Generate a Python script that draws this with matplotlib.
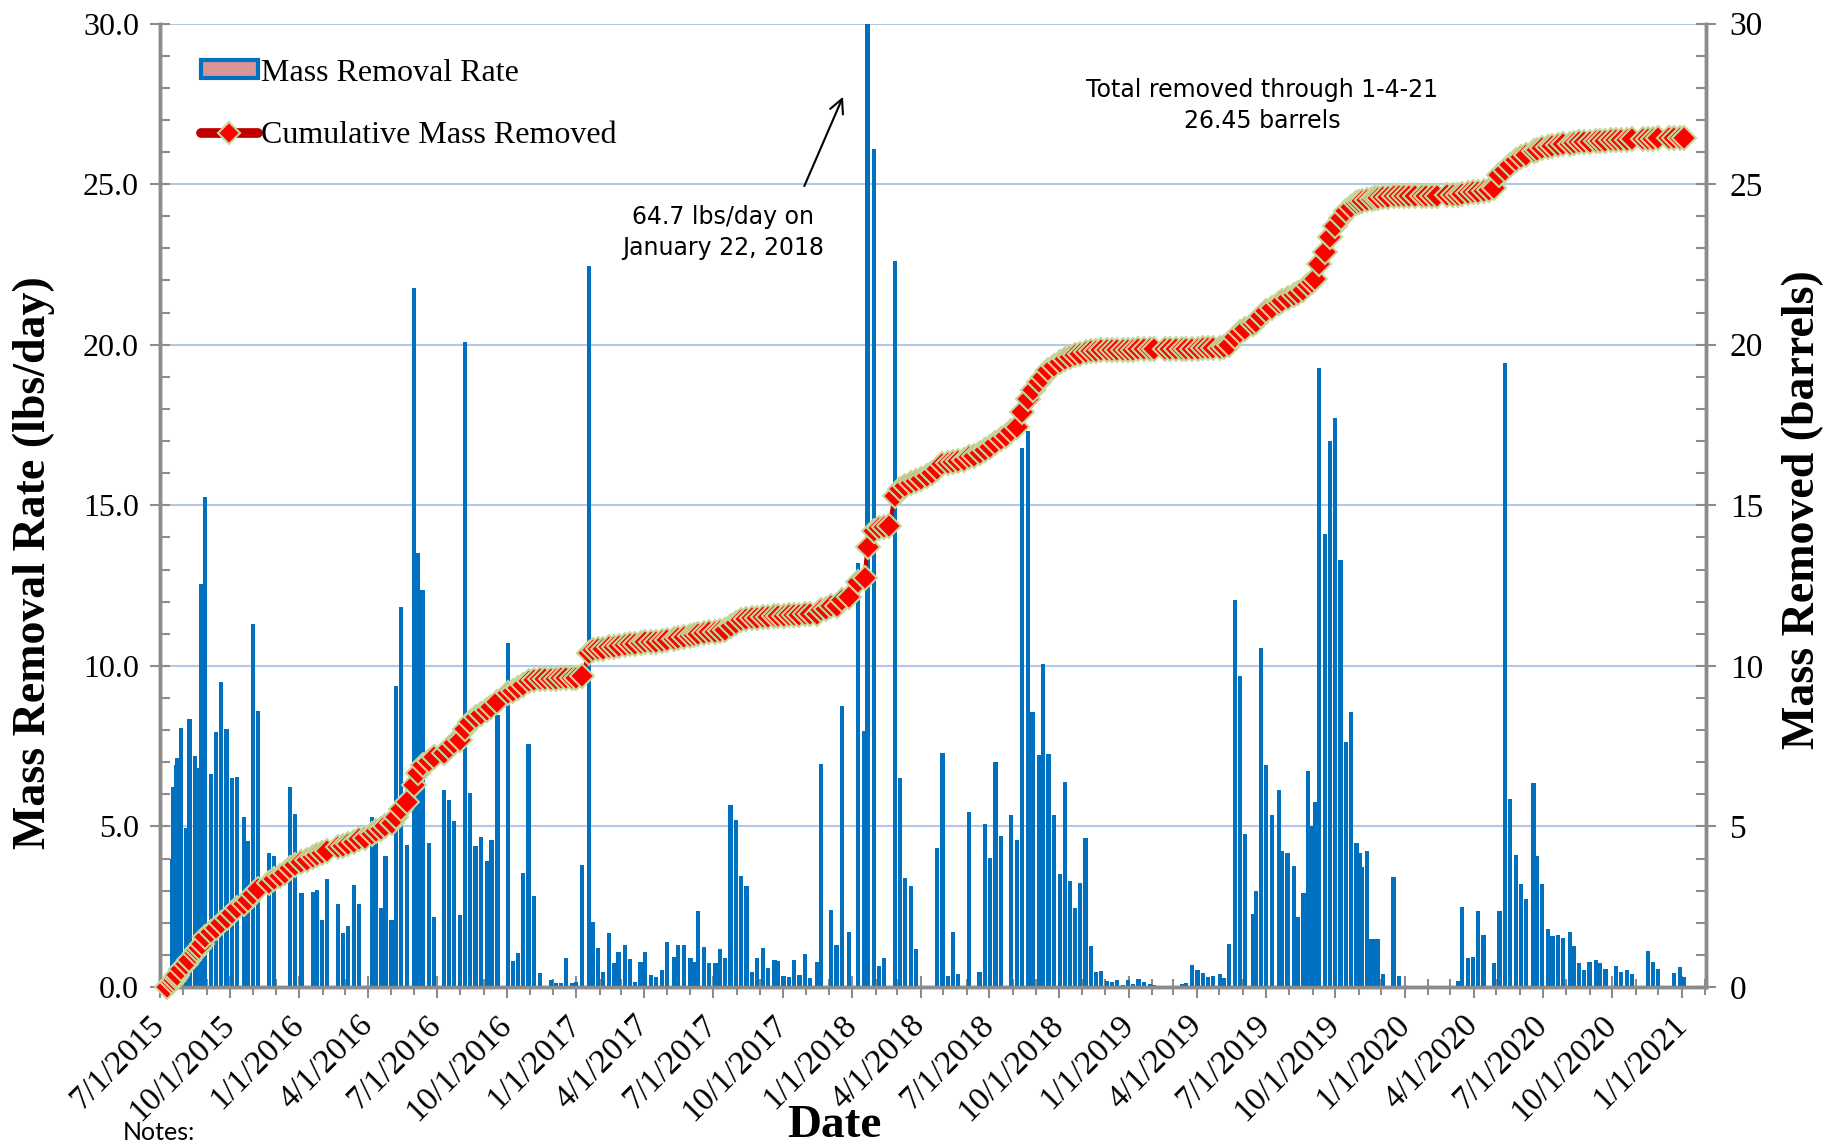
import matplotlib
matplotlib.use('Agg')
import matplotlib.pyplot as plt
from matplotlib.patches import Patch
from matplotlib.lines import Line2D
import pandas as pd

# sample dates, given as days after the start date
start = '2015-07-01'
days = [9, 16, 18, 21, 23, 28, 34, 39, 46, 49, 52, 55, 60, 68, 74, 81, 88, 95, 102, 111,
        116, 123, 130, 144, 151, 158, 165, 172, 179, 187, 194, 202, 207, 214, 221, 235, 242, 249, 256, 263,
        271, 280, 286, 292, 298, 306, 312, 319, 326, 336, 341, 347, 355, 362, 375, 382, 389, 396, 403, 410,
        417, 424, 432, 438, 446, 460, 466, 473, 480, 487, 494, 502, 509, 517, 523, 530, 536, 544, 550, 558,
        567, 572, 579, 585, 593, 600, 606, 614, 621, 628, 635, 641, 649, 655, 663, 670, 679, 684, 692, 701,
        706, 711, 719, 726, 734, 740, 747, 754, 761, 768, 775, 782, 789, 797, 803, 812, 817, 824, 831, 838,
        845, 852, 859, 868, 873, 880, 887, 894, 901, 910, 922, 931, 935, 943, 950, 957, 964, 971, 978, 985,
        992, 999, 1006, 1013, 1020, 1027, 1034, 1041, 1048, 1055, 1062, 1069, 1076, 1083, 1090, 1097, 1104, 1111, 1118, 1125,
        1132, 1139, 1147, 1153, 1161, 1167, 1174, 1181, 1189, 1196, 1202, 1209, 1216, 1223, 1230, 1237, 1244, 1251, 1258, 1265,
        1273, 1279, 1286, 1293, 1300, 1308, 1314, 1328, 1335, 1342, 1350, 1356, 1364, 1371, 1378, 1385, 1392, 1401, 1406, 1413,
        1420, 1427, 1434, 1444, 1448, 1455, 1462, 1469, 1479, 1483, 1490, 1498, 1504, 1511, 1517, 1522, 1526, 1532, 1539, 1546,
        1553, 1560, 1567, 1574, 1581, 1585, 1588, 1595, 1601, 1606, 1609, 1616, 1623, 1630, 1637, 1644, 1651, 1658, 1667, 1673,
        1681, 1688, 1701, 1708, 1715, 1721, 1728, 1735, 1742, 1749, 1756, 1763, 1770, 1777, 1784, 1792, 1798, 1805, 1815, 1819,
        1826, 1834, 1840, 1847, 1854, 1863, 1868, 1875, 1882, 1889, 1897, 1903, 1910, 1917, 1924, 1931, 1938, 1945, 1959, 1966,
        1973, 1980, 1994, 2001, 2008, 2014]

# mass removal rate (lbs/day)
rate = [0, 3.98, 6.23, 6.9, 7.13, 8.08, 4.95, 8.36, 7.18, 6.83, 6.6, 12.54, 15.27, 6.64, 7.93, 9.5, 8.03, 6.5, 6.53, 5.29,
        4.55, 11.29, 8.6, 4.16, 4.08, 0, 0, 6.22, 5.38, 2.94, 0, 2.97, 3.03, 2.1, 3.36, 2.58, 1.68, 1.9, 3.18, 2.58,
        0, 5.29, 4.58, 2.45, 4.08, 2.1, 9.37, 11.82, 4.43, 21.77, 13.5, 12.36, 4.47, 2.19, 6.14, 5.81, 5.17, 2.25, 20.09, 6.04,
        4.38, 4.68, 3.93, 4.58, 8.48, 10.72, 0.8, 1.05, 3.56, 7.57, 2.85, 0.45, 0, 0.21, 0.12, 0.12, 0.9, 0.12, 0.15, 3.8,
        22.45, 2.03, 1.23, 0.48, 1.68, 0.75, 1.08, 1.32, 0.87, 0.15, 0.78, 1.1, 0.38, 0.3, 0.54, 1.41, 0.93, 1.32, 1.32, 0.9,
        0.78, 2.36, 1.25, 0.75, 0.75, 1.2, 0.9, 5.66, 5.2, 3.45, 3.15, 0.48, 0.9, 1.23, 0.6, 0.84, 0.81, 0.35, 0.3, 0.84,
        0.36, 1.02, 0.29, 0.78, 6.95, 0, 2.4, 1.32, 8.75, 1.7, 13.2, 7.96, 64.7, 26.1, 0.66, 0.9, 0, 22.6, 6.52, 3.41,
        3.15, 1.17, 0, 0, 0, 4.32, 7.28, 0.33, 1.7, 0.42, 0, 5.44, 0, 0.48, 5.08, 4.02, 7.01, 4.7, 0, 5.36,
        4.58, 16.79, 17.3, 8.56, 7.24, 10.06, 7.27, 5.36, 3.53, 6.37, 3.3, 2.46, 3.23, 4.64, 1.28, 0.48, 0.5, 0.2, 0.15, 0.23,
        0.05, 0.23, 0.09, 0.26, 0.15, 0.08, 0.06, 0, 0, 0.03, 0.08, 0.12, 0.7, 0.54, 0.45, 0.3, 0.33, 0.4, 0.27, 1.35,
        12.04, 9.67, 4.77, 2.28, 3.0, 10.56, 6.9, 5.36, 6.13, 4.23, 4.17, 3.78, 2.19, 2.94, 6.73, 5.02, 5.75, 19.29, 14.11, 17.01,
        17.72, 13.29, 7.64, 8.56, 4.47, 4.17, 3.75, 4.23, 1.5, 1.5, 1.5, 0.42, 0, 3.42, 0.35, 0, 0.03, 0, 0.03, 0.03,
        0, 0.03, 0, 0, 0.18, 2.5, 0.9, 0.93, 2.36, 1.62, 0, 0.75, 2.37, 19.43, 5.86, 4.1, 3.2, 2.73, 6.35, 4.08,
        3.2, 1.8, 1.59, 1.61, 1.53, 1.71, 1.28, 0.75, 0.53, 0.78, 0.83, 0.75, 0.56, 0, 0.65, 0.48, 0.53, 0.42, 0, 1.13,
        0.78, 0.57, 0, 0.45, 0.63, 0.3]

# cumulative mass removed (barrels)
cum = [0.0, 0.15, 0.22, 0.3, 0.38, 0.55, 0.72, 0.85, 1.05, 1.15, 1.22, 1.35, 1.55, 1.72, 1.85, 2.0, 2.15, 2.3, 2.45, 2.6,
       2.7, 2.9, 3.05, 3.25, 3.35, 3.45, 3.55, 3.7, 3.8, 3.9, 3.95, 4.05, 4.1, 4.18, 4.25, 4.35, 4.4, 4.45, 4.52, 4.6,
       4.65, 4.75, 4.85, 4.92, 5.0, 5.1, 5.3, 5.55, 5.75, 6.3, 6.65, 6.9, 7.05, 7.15, 7.3, 7.45, 7.6, 7.7, 8.05, 8.25,
       8.4, 8.5, 8.62, 8.72, 8.88, 9.15, 9.22, 9.3, 9.4, 9.52, 9.57, 9.6, 9.6, 9.6, 9.6, 9.61, 9.62, 9.62, 9.62, 9.68,
       10.4, 10.48, 10.52, 10.54, 10.58, 10.6, 10.63, 10.66, 10.68, 10.68, 10.7, 10.73, 10.74, 10.75, 10.77, 10.8, 10.83, 10.86, 10.9, 10.93,
       10.95, 11.0, 11.03, 11.05, 11.07, 11.1, 11.12, 11.25, 11.35, 11.42, 11.47, 11.48, 11.5, 11.52, 11.53, 11.55, 11.56, 11.56, 11.57, 11.58,
       11.58, 11.6, 11.6, 11.62, 11.75, 11.78, 11.85, 11.88, 12.05, 12.15, 12.6, 12.75, 13.7, 14.2, 14.3, 14.33, 14.35, 15.3, 15.5, 15.6,
       15.68, 15.75, 15.82, 15.9, 16.0, 16.12, 16.28, 16.32, 16.35, 16.38, 16.4, 16.5, 16.55, 16.62, 16.72, 16.82, 16.95, 17.08, 17.15, 17.3,
       17.45, 17.9, 18.3, 18.6, 18.85, 19.0, 19.2, 19.35, 19.45, 19.55, 19.62, 19.68, 19.72, 19.77, 19.8, 19.82, 19.83, 19.84, 19.84, 19.85,
       19.85, 19.85, 19.85, 19.86, 19.86, 19.86, 19.86, 19.86, 19.86, 19.86, 19.86, 19.86, 19.87, 19.88, 19.89, 19.9, 19.9, 19.91, 19.92, 19.98,
       20.25, 20.4, 20.5, 20.65, 20.7, 20.9, 21.05, 21.15, 21.3, 21.35, 21.45, 21.55, 21.6, 21.7, 21.85, 21.95, 22.05, 22.5, 22.9, 23.35,
       23.7, 23.95, 24.15, 24.3, 24.4, 24.45, 24.48, 24.52, 24.55, 24.57, 24.58, 24.6, 24.6, 24.62, 24.63, 24.63, 24.63, 24.63, 24.64, 24.64,
       24.64, 24.64, 24.65, 24.66, 24.67, 24.7, 24.72, 24.74, 24.77, 24.8, 24.83, 24.88, 25.3, 25.45, 25.6, 25.75, 25.85, 25.92, 26.02, 26.07,
       26.12, 26.16, 26.19, 26.22, 26.24, 26.26, 26.28, 26.3, 26.31, 26.32, 26.33, 26.34, 26.35, 26.36, 26.37, 26.38, 26.39, 26.4, 26.4, 26.41,
       26.42, 26.43, 26.43, 26.44, 26.45, 26.45]

assert len(days) == len(rate) == len(cum)

dates = pd.Timestamp(start) + pd.to_timedelta(days, unit='D')
t0 = pd.Timestamp(start)

serif = 'Liberation Serif'
axis_grey = '#8C8C8C'

fig = plt.figure(figsize=(18.47, 11.44), dpi=100)
ax = fig.add_axes([0.0866, 0.1372, 0.8371, 0.8422])
ax2 = ax.twinx()

# bars - mass removal rate
ax.bar(dates, rate, width=5.5, color='#0070C0', zorder=3)
ax.set_ylim(0, 30)
ax.set_xlim(t0, pd.Timestamp('2021-02-02'))
ax.set_axisbelow(True)
ax.yaxis.grid(True, color='#B4C7E7', lw=1.5)

# cumulative line with diamond markers
ax2.plot(dates, cum, color='#C00000', lw=3, marker='D', ms=12.5, mfc='#FF0000',
         mec='#C4D79B', mew=1.5, clip_on=False, zorder=5)
ax2.set_ylim(0, 30)

# x axis - quarterly labels, monthly minor ticks
major = pd.date_range('2015-07-01', '2021-01-01', freq='3MS')
minor = pd.date_range('2015-07-01', '2021-02-01', freq='MS')
ax.set_xticks(major)
ax.set_xticks(minor, minor=True)
ax.set_xticklabels([f'{d.month}/{d.day}/{d.year}' for d in major], rotation=45,
                   ha='right', va='center', rotation_mode='anchor', fontsize=24, family=serif)
ax.tick_params(axis='x', which='major', direction='inout', length=16, width=1.5, color=axis_grey, pad=16)
ax.tick_params(axis='x', which='minor', direction='inout', length=12, width=1.5, color=axis_grey)

# y axes
ax.set_yticks(range(0, 31, 5))
ax.set_yticks(range(0, 31), minor=True)
ax.set_yticklabels([f'{v:.1f}' for v in range(0, 31, 5)], fontsize=23, family=serif)
ax.tick_params(axis='y', which='major', direction='inout', length=14, width=1.5, color=axis_grey, pad=8)
ax.tick_params(axis='y', which='minor', direction='in', length=7, width=1.5, color=axis_grey)

ax2.set_yticks(range(0, 31, 5))
ax2.set_yticks(range(0, 31), minor=True)
ax2.set_yticklabels([str(v) for v in range(0, 31, 5)], fontsize=24, family=serif)
ax2.tick_params(axis='y', which='major', direction='inout', length=14, width=1.5, color=axis_grey, pad=10)
ax2.tick_params(axis='y', which='minor', direction='in', length=7, width=1.5, color=axis_grey)

for a in (ax, ax2):
    a.spines['top'].set_visible(False)
    for s in ('left', 'right', 'bottom'):
        a.spines[s].set_color(axis_grey)
        a.spines[s].set_linewidth(2.5)

# axis titles
ax.set_ylabel('Mass Removal Rate (lbs/day)', fontsize=33, fontweight='bold', family=serif)
ax.yaxis.set_label_coords(-0.068, 0.441)
ax2.set_ylabel('Mass Removed (barrels)', fontsize=33, fontweight='bold', family=serif)
ax2.yaxis.set_label_coords(1.049, 0.496)
ax.set_xlabel('Date', fontsize=34, fontweight='bold', family=serif)
ax.xaxis.set_label_coords(0.436, -0.1225)

fig.text(0.0666, 0.02, 'Notes:', fontsize=18, family='Lato', va='top', ha='left')

# annotations
ax2.text(t0 + pd.Timedelta(days=744), 23.5, '64.7 lbs/day on\nJanuary 22, 2018', ha='center', va='center',
         fontsize=17, family='DejaVu Sans', linespacing=1.4, zorder=6)
ax2.annotate('', xy=(t0 + pd.Timedelta(days=904), 27.8), xytext=(t0 + pd.Timedelta(days=850), 24.86),
             arrowprops=dict(arrowstyle='->', color='black', lw=1.5, mutation_scale=25))
ax2.text(t0 + pd.Timedelta(days=1456), 27.45, 'Total removed through 1-4-21\n26.45 barrels', ha='center',
         va='center', fontsize=17, family='DejaVu Sans', linespacing=1.4, zorder=6)

# legend
bar_handle = Patch(facecolor='#D99694', edgecolor='#0070C0', lw=3)
line_handle = Line2D([], [], color='#C00000', lw=7, solid_capstyle='round', marker='D', ms=11,
                     mfc='#FF0000', mec='#C4D79B', mew=1.5)
ax2.legend([bar_handle, line_handle], ['Mass Removal Rate', 'Cumulative Mass Removed'], loc='upper left',
           bbox_to_anchor=(0.018, 0.977), frameon=False, prop={'family': serif, 'size': 23},
           handlelength=1.8, handleheight=0.5, handletextpad=0.1, labelspacing=1.05, borderaxespad=0)

fig.savefig('out.png', dpi=100)
